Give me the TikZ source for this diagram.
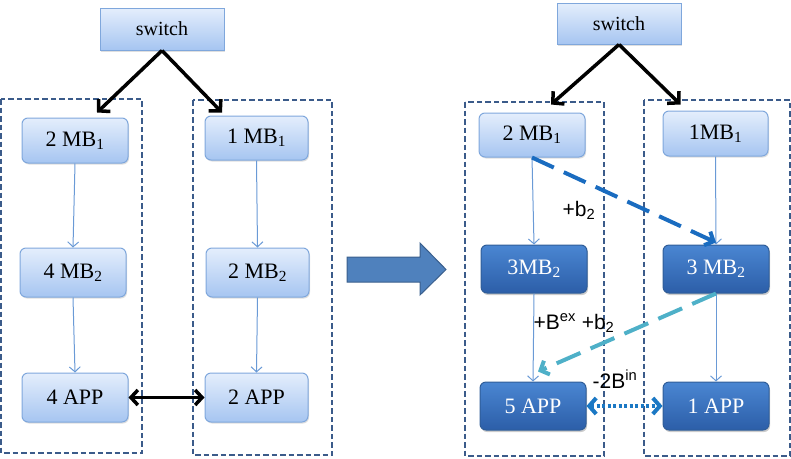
\documentclass[tikz,border=0pt]{standalone}
\usepackage{fontspec}
\setmainfont{Liberation Serif}
\newfontfamily\labelfont{Liberation Sans}
\usetikzlibrary{arrows.meta,calc,shadows}
\definecolor{lighttop}{HTML}{E4EEFC}
\definecolor{lightbot}{HTML}{A6C5F1}
\definecolor{lightedge}{HTML}{7FA7DC}
\definecolor{darktop}{HTML}{4A86D2}
\definecolor{darkbot}{HTML}{2C5EA8}
\definecolor{darkedge}{HTML}{2F5D98}
\definecolor{thinarrow}{HTML}{6A9AD6}
\definecolor{groupedge}{HTML}{3B5B8A}
\definecolor{bluedash}{HTML}{1A6CC0}
\definecolor{tealdash}{HTML}{4EB0C8}
\definecolor{dotblue}{HTML}{1B78C4}
\definecolor{bigfill}{HTML}{4F81BD}
\definecolor{bigedge}{HTML}{3A5F8D}
\tikzset{
  boxbase/.style={inner sep=0pt, font=\fontsize{22}{26}\selectfont},
  lightbox/.style={boxbase, rounded corners=6pt, draw=lightedge, line width=1pt,
    top color=lighttop, bottom color=lightbot, text=black,
    drop shadow={shadow xshift=1pt, shadow yshift=-1.5pt, opacity=0.25}},
  darkbox/.style={boxbase, rounded corners=6pt, draw=darkedge, line width=1pt,
    top color=darktop, bottom color=darkbot, text=white,
    drop shadow={shadow xshift=1pt, shadow yshift=-2pt, opacity=0.4}},
  switchbox/.style={boxbase, draw=lightedge, line width=1pt,
    top color=lighttop, bottom color=lightbot, font=\fontsize{20}{24}\selectfont,
    minimum width=124pt, minimum height=42pt,
    drop shadow={shadow xshift=1pt, shadow yshift=-1.5pt, opacity=0.25}},
  groupbox/.style={draw=groupedge, line width=1.8pt, dash pattern=on 5.5pt off 3pt},
  thin/.style={draw=thinarrow, line width=1pt, -{Straight Barb[length=5pt,width=11pt]}},
  swarrow/.style={draw=black, line width=3.5pt, -{Straight Barb[length=8pt,width=17pt]}},
  blackdouble/.style={draw=black, line width=3.5pt, {Straight Barb[length=7pt,width=15pt]}-{Straight Barb[length=7pt,width=15pt]}},
  bluedasharrow/.style={draw=bluedash, line width=4pt, dash pattern=on 24pt off 11pt, -{Straight Barb[length=7pt,width=15pt]}},
  tealdasharrow/.style={draw=tealdash, line width=4pt, dash pattern=on 26pt off 11pt, -{Straight Barb[length=7pt,width=15pt]}},
  dotarrow/.style={draw=dotblue, line width=4pt, dash pattern=on 3pt off 2.5pt, {Straight Barb[length=7pt,width=16pt]}-{Straight Barb[length=7pt,width=16pt]}},
  lbl/.style={font=\labelfont\fontsize{21}{24}\selectfont, inner sep=0pt}
}
\begin{document}
\begin{tikzpicture}[x=1pt,y=-1pt]
\useasboundingbox (0,0) rectangle (791,458);
% group boxes
\draw[groupbox] (1,99) rectangle (142,453);
\draw[groupbox] (193,100) rectangle (332,455);
\draw[groupbox] (465,102) rectangle (604,456);
\draw[groupbox] (644,100) rectangle (790,456);
% left diagram
\node[switchbox] (sw1) at (162,29) {switch};
\node[lightbox, minimum width=106pt, minimum height=45pt] (L1a) at (75,140.5) {2 MB\textsubscript{1}};
\node[lightbox, minimum width=106pt, minimum height=49pt] (L1b) at (73,272.5) {4 MB\textsubscript{2}};
\node[lightbox, minimum width=106pt, minimum height=49pt] (L1c) at (75,397.5) {4 APP};
\node[lightbox, minimum width=103pt, minimum height=44pt] (R1a) at (256.5,138) {1 MB\textsubscript{1}};
\node[lightbox, minimum width=103pt, minimum height=49pt] (R1b) at (257.5,272.5) {2 MB\textsubscript{2}};
\node[lightbox, minimum width=103pt, minimum height=49pt] (R1c) at (256.5,397.5) {2 APP};
\draw[swarrow] (sw1.south) -- ($(L1a.north)+(22,-5)$);
\draw[swarrow] (sw1.south) -- ($(R1a.north)+(-34.5,-3)$);
\draw[thin] (L1a.south) -- (L1b.north);
\draw[thin] (L1b.south) -- (L1c.north);
\draw[thin] (R1a.south) -- (R1b.north);
\draw[thin] (R1b.south) -- (R1c.north);
\draw[blackdouble] (L1c.east) -- (R1c.west);
% big arrow
\filldraw[fill=bigfill, draw=bigedge, line width=1pt]
  (347,257) -- (420,257) -- (420,243) -- (446,269.5) -- (420,295) -- (420,282) -- (347,282) -- cycle;
% right diagram
\node[switchbox, minimum height=41pt] (sw2) at (619,23.5) {switch};
\node[lightbox, minimum width=106pt, minimum height=44pt] (L2a) at (532,135) {2 MB\textsubscript{1}};
\node[lightbox, minimum width=105pt, minimum height=45pt] (R2a) at (715.5,133.5) {1MB\textsubscript{1}};
\node[darkbox, minimum width=106pt, minimum height=48pt] (L2b) at (534,269) {3MB\textsubscript{2}};
\node[darkbox, minimum width=106pt, minimum height=48pt] (R2b) at (716,269) {3 MB\textsubscript{2}};
\node[darkbox, minimum width=106pt, minimum height=48pt] (L2c) at (533,406) {5 APP};
\node[darkbox, minimum width=106pt, minimum height=48pt] (R2c) at (716,406) {1 APP};
\draw[swarrow] (sw2.south) -- ($(L2a.north)+(19,-8)$);
\draw[swarrow] (sw2.south) -- ($(R2a.north)+(-35,-6)$);
\draw[thin] (L2a.south) -- (L2b.north);
\draw[thin] (L2b.south) -- (L2c.north);
\draw[thin] (R2a.south) -- (R2b.north);
\draw[thin] (R2b.south) -- (R2c.north);
\draw[bluedasharrow] (L2a.south) -- ($(R2b.north)+(0,-2)$);
\draw[tealdasharrow] (R2b.south) -- ($(L2c.north)+(5,-10)$);
\draw[dotarrow] (L2c.east) -- (R2c.west);
\node[lbl] (lb1) at (579,210) {+b\textsubscript{2}};
\node[lbl] (lb2) at (574,323) {+B\textsuperscript{ex} +b\textsubscript{2}};
\node[lbl] (lb3) at (615,379) {-2B\textsuperscript{in}};
\end{tikzpicture}
\end{document}
